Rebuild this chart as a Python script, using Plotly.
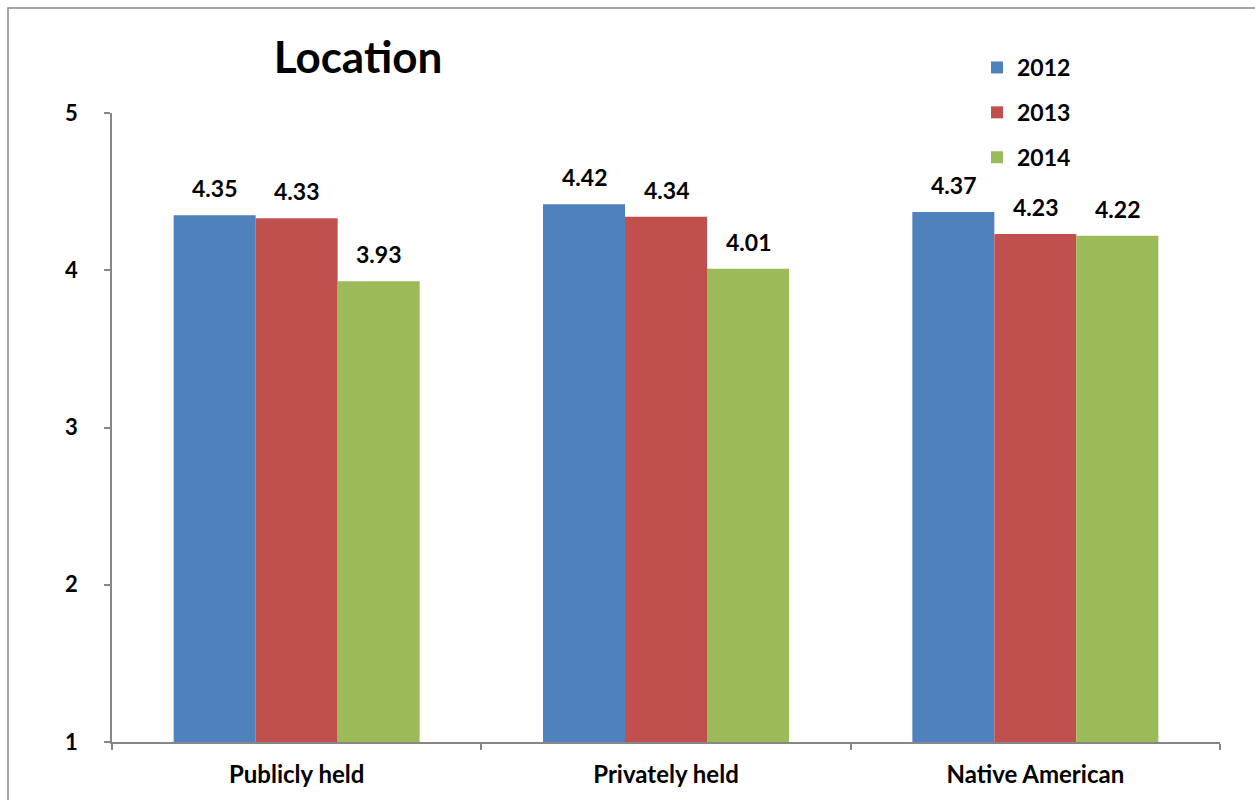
import plotly.graph_objects as go

categories = ["Publicly held", "Privately held", "Native American"]
years = ["2012", "2013", "2014"]
values_2012 = [4.35, 4.42, 4.37]
values_2013 = [4.33, 4.34, 4.23]
values_2014 = [3.93, 4.01, 4.22]
series = [values_2012, values_2013, values_2014]
colors = ["#4F81BD", "#C0504D", "#9BBB59"]

FONT = "Lato, Open Sans, sans-serif"
fig = go.Figure()
for name, vals, col in zip(years, series, colors):
    fig.add_trace(go.Bar(x=categories, y=vals, name=name, marker_color=col,
                         marker_line_width=0, legendgroup=name))

# data labels
bar_px = 82
for i, vals in enumerate(series):
    for c, v in zip(categories, vals):
        fig.add_annotation(x=c, y=v, text=f"{v:.2f}", showarrow=False,
                           xshift=(i - 1) * bar_px, yshift=11, yanchor="bottom",
                           font=dict(family=FONT, size=23, color="black", weight="bold"))

# outer frame
fig.add_shape(type="rect", xref="paper", yref="paper",
              x0=(8 - 112) / 1108, x1=(1262 - 112) / 1108,
              y0=(742 - 806) / 629, y1=(742 - 8) / 629,
              line=dict(color="#8C8C8C", width=1.5), fillcolor="rgba(0,0,0,0)", layer="below")

fig.update_layout(
    width=1255, height=800,
    margin=dict(l=112, r=35, t=113, b=58),
    paper_bgcolor="white", plot_bgcolor="white",
    barmode="group", bargap=0.334, bargroupgap=0,
    font=dict(family=FONT, color="black"),
    title=dict(text="<b>Location</b>", x=358 / 1255, xanchor="center", xref="container",
               y=1 - 58 / 800, yanchor="middle", yref="container",
               font=dict(family=FONT, size=44, color="black")),
    legend=dict(x=(977 - 112) / 1108, xanchor="left", y=(742 - 46) / 629, yanchor="top",
                font=dict(family=FONT, size=23, color="black", weight="bold"),
                tracegroupgap=12, bgcolor="rgba(0,0,0,0)"),
    showlegend=True,
)
fig.update_xaxes(showline=True, linecolor="#868686", linewidth=1.5,
                 ticks="outside", ticklen=6, tickcolor="#868686", tickwidth=1.5,
                 tickson="boundaries", showgrid=False,
                 tickfont=dict(family=FONT, size=24, color="black", weight="bold"),
                 ticklabelstandoff=10)
fig.update_yaxes(range=[1, 5], dtick=1, showline=True, linecolor="#868686", linewidth=1.5,
                 ticks="outside", ticklen=6, tickcolor="#868686", tickwidth=1.5,
                 showgrid=False, zeroline=False,
                 tickfont=dict(family=FONT, size=22, color="black", weight="bold"),
                 ticklabelstandoff=22)

fig.write_html("out.html")
